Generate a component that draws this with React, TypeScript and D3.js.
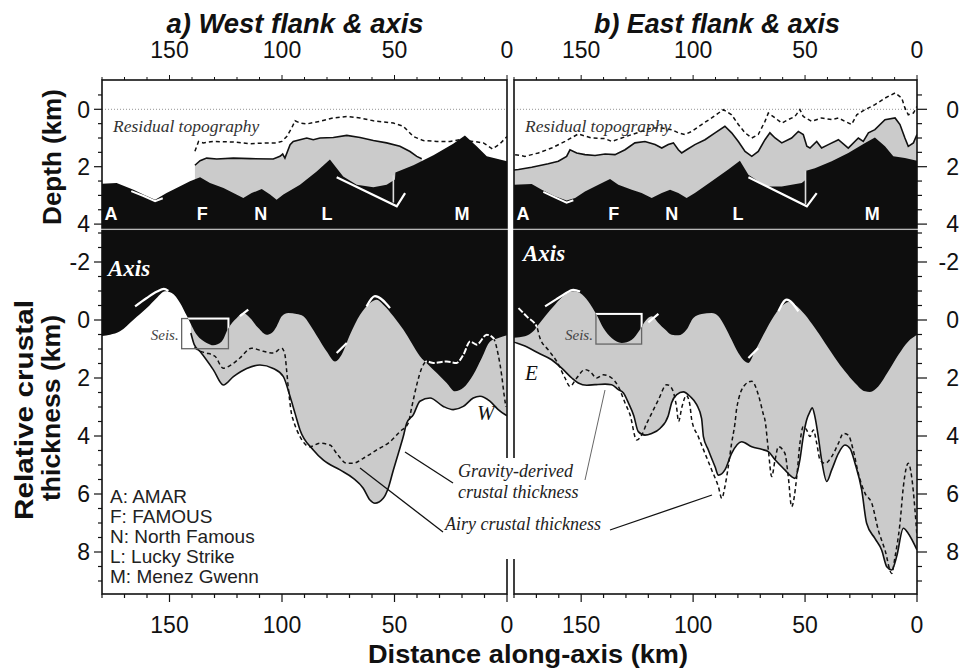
import React from 'react';
import * as d3 from 'd3';

type P = [number, number];

// ---------- tick labels / categories ----------
const KM_MAJOR = [150, 100, 50, 0];
const DEPTH_LABELS = [0, 2, 4];
const THICK_LABELS = [-2, 0, 2, 4, 6, 8];
const SITE_KM = [176, 135.5, 109.5, 80, 20];
const SITE_CODES = ['A', 'F', 'N', 'L', 'M'];
const LEGEND = ['A: AMAR', 'F: FAMOUS', 'N: North Famous', 'L: Lucky Strike', 'M: Menez Gwenn'];

// ---------- West flank: depth (km) vs distance (km) ----------
const bathyW: P[] = [[181,2.60],[173.5,2.57],[166,2.80],[161.6,2.97],[156.4,3.15],[151.3,2.92],[145.3,2.68],[140.9,2.51],[136.4,2.37],[132,2.57],[126,2.74],[121.6,2.92],[117.2,3.09],[113.5,2.92],[109,2.78],[105.3,2.97],[102.4,3.15],[99.4,2.97],[92,2.63],[84.6,2.17],[78.7,1.75],[72.8,2.34],[66.8,2.63],[59.4,2.72],[53.5,2.63],[49.8,2.45],[49.6,2.20],[41.6,1.95],[32.7,1.60],[23.9,1.20],[18.7,0.91],[13.5,1.29],[9,1.64],[0,1.81]];
const resW: P[] = [[138.7,1.95],[136.4,1.79],[133.5,1.70],[129,1.73],[121.6,1.70],[114.2,1.72],[103.9,1.73],[100.9,1.64],[99.7,1.56],[98.7,1.70],[96.4,1.23],[95,1.12],[92,1.06],[89,1.00],[86.1,1.06],[83.1,1.00],[77.2,0.98],[71.2,0.91],[65.3,0.98],[59.4,1.09],[53.5,1.17],[47.6,1.29],[43.1,1.47],[40.1,1.64],[37.9,1.72]];
const resDashW: P[] = [[138.7,1.46],[137.1,1.12],[135,1.17],[130.5,1.12],[121.6,1.14],[114.2,1.20],[106.8,1.17],[102.4,1.17],[100.1,1.12],[97.9,0.95],[95.7,0.65],[94.2,0.40],[92,0.48],[89,0.51],[83.1,0.42],[77.2,0.30],[71.2,0.25],[65.3,0.30],[59.4,0.40],[50.5,0.48],[46.1,0.59],[41.6,0.95],[37.2,1.09],[31.2,1.12],[25.3,1.12],[20.9,1.06],[15,1.12],[10.5,1.17],[6.5,1.38],[3.1,1.2],[0,0.95]];
const whiteAW: P[] = [[167,2.85],[161.5,3.02],[156.4,3.2],[153,3.1]];
const whiteLW: P[] = [[75.7,2.37],[49,3.38],[45.3,2.92]];
const whiteVW: P[] = [[50.5,2.3],[50.5,3.25]];

// ---------- East flank: depth ----------
const bathyE: P[] = [[181,2.63],[172.1,2.60],[167.6,2.80],[161.7,3.03],[156.5,3.18],[152.7,3.09],[148.3,2.86],[142.3,2.63],[137.1,2.43],[133.4,2.63],[127.4,2.80],[123,2.92],[118.5,3.09],[114,2.92],[110.3,2.80],[106.6,2.92],[102.9,3.09],[99.2,2.92],[91.7,2.51],[84.3,2.10],[79.1,1.79],[75.3,2.28],[70.9,2.51],[66.4,2.69],[60.4,2.69],[56,2.63],[51.5,2.57],[50,2.47],[49.5,2.14],[45.6,2.05],[38.1,1.81],[30.7,1.52],[23.2,1.17],[18.8,0.98],[14.3,1.29],[10.6,1.64],[5.4,1.70],[0,1.79]];
const resE: P[] = [[181,2.12],[178,2.10],[172.1,2.02],[164.7,1.90],[160.2,1.81],[156.5,1.64],[155,1.41],[152,1.52],[148.3,1.58],[143.8,1.61],[139.3,1.56],[134.9,1.58],[130.4,1.41],[126,1.17],[121.5,1.12],[117,1.23],[114,1.35],[111.1,1.23],[108.8,1.17],[106.6,1.41],[105.1,1.52],[102.9,1.41],[99.2,1.23],[94.7,1.06],[90.2,0.82],[85.8,0.59],[82.8,0.82],[79.8,1.12],[76.8,1.47],[73.8,1.64],[70.9,1.47],[67.9,1.06],[65.7,0.82],[63.4,1.00],[60.4,1.17],[56,1.00],[53,0.77],[50.8,0.88],[49.2,1.29],[47.8,1.35],[44.8,1.12],[42.6,1.35],[39.6,1.23],[35.1,1.06],[30.7,1.35],[26.2,1.00],[24,1.12],[21.7,0.82],[18.8,0.71],[14.3,0.36],[9.8,0.30],[7.6,0.53],[5.4,1.00],[3.9,1.29],[1.6,1.17],[0,0.88]];
const resDashE: P[] = [[179.5,1.58],[175.1,1.64],[169.1,1.52],[163.2,1.35],[157.2,1.12],[151.3,0.86],[145.3,1.00],[139.3,1.02],[136.4,1.12],[131.9,1.00],[127.4,0.88],[123,0.77],[118.5,0.65],[114,0.65],[109.6,0.71],[106.6,0.82],[103.6,0.88],[100.6,0.77],[96.2,0.53],[91.7,0.30],[86.5,0.01],[82.8,0.19],[79.8,0.53],[76.8,0.82],[73.8,1.00],[70.9,0.88],[67.9,0.42],[66.4,0.13],[63.4,0.30],[60.4,0.48],[57.5,0.36],[54.5,0.25],[52.3,0.01],[50.8,0.25],[47,0.42],[42.6,0.30],[38.1,0.36],[35.1,0.30],[32.2,0.42],[29.2,0.53],[26.9,0.19],[23.2,0.01],[18.8,-0.16],[14.3,-0.39],[9.8,-0.57],[6.8,-0.39],[5.4,-0.05],[3.9,0.19],[1.6,0.13],[0,-0.10]];
const whiteAE: P[] = [[166.9,2.88],[161.7,3.07],[156.5,3.25],[153.5,3.17]];
const whiteLE: P[] = [[75.3,2.37],[49.2,3.38],[44.8,2.92]];
const whiteVE: P[] = [[49.8,2.15],[49.8,3.3]];

// ---------- West flank: relative crustal thickness (km) ----------
const axisW: P[] = [[181,0.56],[176.4,0.51],[172,0.39],[166,-0.01],[160.1,-0.41],[155.7,-0.76],[152,-0.99],[149,-0.93],[145.3,-0.59],[142.2,-0.13],[137.9,0.51],[133.5,0.79],[130.5,0.87],[126.8,0.74],[123.8,0.28],[120.1,-0.07],[117.2,-0.24],[114.2,-0.07],[110.5,0.28],[106.8,0.51],[104.6,0.45],[102.4,0.22],[100.1,-0.13],[97.2,-0.24],[93.5,-0.21],[90.5,-0.13],[87.6,0.16],[83.9,0.62],[80.2,1.08],[76.4,1.43],[73.5,1.20],[69.8,0.51],[65.3,-0.18],[60.9,-0.59],[57.9,-0.70],[55,-0.53],[50.5,-0.13],[46.1,0.33],[42.4,0.79],[38.7,1.25],[35,1.54],[31.2,1.83],[26.8,2.17],[23.1,2.46],[19.4,2.34],[15,1.89],[11.2,1.31],[7.5,0.74],[3.8,0.62],[0,0.53]];
const gravW: P[] = [[140.5,0.45],[139,0.85],[136.4,1.09],[130.5,1.72],[126.1,2.24],[121.6,1.95],[115.7,1.67],[109.8,1.55],[103.9,1.67],[99.4,1.95],[96.4,2.64],[94.2,3.22],[92,3.79],[86.1,4.48],[81.6,4.83],[74.2,5.17],[68.3,5.46],[63.9,5.80],[60.9,6.21],[58.7,6.32],[55,6.15],[52.8,5.8],[50.5,5.17],[48.3,4.6],[46.1,4.02],[44.6,3.56],[41.6,3.26],[38.7,2.80],[34.2,2.69],[28.3,2.98],[23.9,3.09],[19.4,2.98],[15,2.69],[12,2.63],[7.6,2.80],[3.9,3.09],[0.9,3.26],[0,3.3]];
const airyW: P[] = [[139,0.95],[135.5,1.1],[133.5,1.14],[129.8,1.25],[126.1,1.66],[122.4,1.54],[118.7,1.31],[113.5,0.97],[108.3,1.08],[103.9,1.14],[100.1,0.97],[98.7,1.20],[97.9,1.77],[97.2,2.34],[95.7,3.26],[95,3.45],[92,4.02],[87.6,4.37],[83.1,4.25],[78.7,4.31],[75.7,4.6],[71.2,4.94],[68.3,4.94],[63.9,4.77],[57.9,4.48],[52,4.2],[47.6,3.85],[43.9,3.56],[42.4,3.03],[40.1,2.23],[37.9,1.66],[35.7,1.43],[32.7,1.48],[26.8,1.43],[22.4,1.48],[19.4,1.2],[16.4,0.74],[13.5,0.85],[9,0.51],[6.1,0.62],[3.9,1.2],[2.4,1.89],[1.3,2.57],[0.5,3.0]];
const marksW: P[][] = [
  [[165.3,-0.47],[160.1,-0.76],[155.5,-0.98],[152.5,-1.07],[150.5,-1.0]],
  [[118.7,-0.13],[115,-0.36]],
  [[75.7,1.14],[71.2,0.79]],
  [[62.4,-0.47],[58.7,-0.82],[52,-0.41]],
];
const seisW = { km: [144.6, 123.8], t: [-0.05, 0.99] };

// ---------- East flank: relative crustal thickness ----------
const axisE: P[] = [[181,0.62],[175.1,0.56],[171.4,0.39],[169.1,0.16],[166.1,-0.13],[161.7,-0.53],[157.2,-0.87],[153.5,-0.99],[150.5,-0.93],[146.8,-0.64],[143.1,-0.18],[140.1,0.28],[136.4,0.62],[131.9,0.79],[127.4,0.68],[123.7,0.33],[121.5,0.05],[118.5,-0.13],[115.5,0.10],[112.5,0.33],[109.6,0.51],[106.6,0.53],[102.9,0.33],[99.9,-0.07],[96.2,-0.21],[91.7,-0.24],[88.7,-0.13],[85.8,0.22],[82.8,0.68],[79.8,1.14],[76.8,1.43],[75.3,1.48],[72.4,1.08],[68.6,0.51],[64.9,-0.01],[60.4,-0.47],[57.5,-0.62],[54.5,-0.53],[50,-0.18],[45.6,0.28],[41.1,0.79],[36.6,1.31],[32.2,1.77],[27.7,2.17],[23.2,2.46],[21,2.48],[17.3,2.29],[12.8,1.77],[8.3,1.2],[3.9,0.74],[0,0.51]];
const gravE: P[] = [[181,0.75],[178.8,0.79],[175.1,0.90],[169.1,1.14],[163.2,1.37],[158.7,1.66],[154.2,2.0],[151.3,2.17],[147.5,2.25],[143.8,2.23],[139.3,2.21],[136.4,2.23],[133.4,2.40],[131.1,2.52],[128.9,2.86],[126.5,3.3],[124.5,3.85],[121.5,3.97],[118.5,3.91],[114.8,3.74],[111.1,3.3],[109.6,2.85],[107.3,2.57],[104.4,2.48],[101.4,2.63],[98.4,2.92],[96.2,3.4],[95.4,4.02],[93.2,4.48],[90.2,5.06],[88.7,5.35],[85.8,5.17],[82.8,4.6],[78.3,4.2],[73.8,4.37],[69.4,4.46],[66.4,4.54],[63.4,4.82],[59,5.17],[56,5.40],[54.5,5.46],[52.3,4.82],[50.8,4.02],[49.3,3.45],[47.8,3.16],[46.8,3.03],[45.6,3.33],[44.1,4.02],[42.6,4.83],[40.3,5.57],[38.1,5.17],[35.1,4.6],[32.2,4.31],[29.9,4.43],[27.7,4.94],[24.7,5.86],[22.5,7.01],[18.8,7.53],[15.8,7.93],[13.5,8.51],[11.3,8.62],[9.1,8.16],[6.1,7.18],[3.9,7.36],[0,7.93]];
const airyE: P[] = [[178,-0.41],[174,-0.1],[169.9,0.22],[168.4,0.62],[164.7,1.03],[160.9,1.43],[157.2,2.0],[155,2.29],[152,2.0],[148.3,1.71],[146.1,1.77],[143.1,2.0],[140.1,1.89],[136.4,2.0],[133.4,2.29],[130.4,2.86],[128.2,3.26],[125.2,4.14],[123,3.97],[120.7,3.56],[118.5,3.22],[115.5,2.75],[111.8,2.23],[109.6,2.35],[107.4,3.0],[106.5,3.5],[105,3.0],[103,2.6],[101.5,2.9],[100.6,3.45],[97.7,4.02],[94.7,4.6],[91.7,5.17],[88.7,5.75],[87.2,6.15],[85.8,5.75],[84.3,5.06],[82.8,4.25],[81.3,3.56],[80.5,3.03],[76.8,2.23],[73.8,2.11],[70.9,2.57],[68.6,3.26],[67.9,3.45],[66.4,4.48],[64.9,5.4],[63.4,4.83],[61.9,4.37],[59,4.6],[57.5,5.4],[56,6.44],[53.7,5.4],[52.3,4.25],[50.8,3.68],[49.3,3.79],[47.8,4.02],[46.3,3.79],[44.8,4.25],[43.3,4.83],[41.1,4.94],[38.1,4.71],[35.1,4.25],[32.9,3.91],[30.7,3.97],[28.5,4.48],[26.2,5.29],[23.2,5.98],[20.2,6.32],[17.3,7.24],[14.3,7.93],[11.3,8.74],[9.8,8.16],[7.6,7.01],[6.1,5.75],[3.9,4.94],[2.4,5.4],[0.9,6.55],[0,7.47]];
const marksE: P[][] = [
  [[166.1,-0.47],[161,-0.72],[157.9,-0.87],[153.5,-1.04],[150.5,-0.98]],
  [[120,0.08],[115.5,-0.21]],
  [[75.3,1.31],[70.9,0.97]],
  [[61.9,-0.30],[58.2,-0.70],[53,-0.30]],
];
const seisE = { km: [143.4, 123], t: [-0.21, 0.83] };

const SANS = '"Liberation Sans", Arial, Helvetica, sans-serif';
const SERIF = '"Liberation Serif", "Times New Roman", serif';
const GRAY = '#cbcbcb';
const BLACK = '#0e0e0e';

export default function App() {
  const T0 = 80, T1 = 228, B0 = 230.5, B1 = 594;
  const xW = d3.scaleLinear().domain([180, 0]).range([102, 507]);
  const xE = d3.scaleLinear().domain([180, 0]).range([514, 917]);
  const yT = d3.scaleLinear().domain([0, 4]).range([109.3, 224.1]);
  const yB = d3.scaleLinear().domain([0, 8]).range([320, 552]);

  const panels = [
    { key: 'W', x: xW, bathy: bathyW, res: resW, resD: resDashW, wA: whiteAW, wL: whiteLW, wV: whiteVW,
      axis: axisW, grav: gravW, airy: airyW, marks: marksW, seis: seisW, axisY: 276, axisX: 108 },
    { key: 'E', x: xE, bathy: bathyE, res: resE, resD: resDashE, wA: whiteAE, wL: whiteLE, wV: whiteVE,
      axis: axisE, grav: gravE, airy: airyE, marks: marksE, seis: seisE, axisY: 261, axisX: 523 },
  ];

  const kmTicks = d3.range(0, 181, 10);
  const depthTicks = d3.range(-0.5, 4.01, 0.5);
  const thickTicks = d3.range(-3, 9.01, 0.5);

  return (
    <svg width={961} height={669} style={{ position: 'absolute', left: 0, top: 0, display: 'block', background: '#fff' }}>
      {panels.map((p) => {
        const x = p.x;
        const [xl, xr] = x.range();
        const linT = d3.line<P>().x((d) => x(d[0])).y((d) => yT(d[1]));
        const smB = d3.line<P>().x((d) => x(d[0])).y((d) => yB(d[1])).curve(d3.curveMonotoneX);
        const blackTop = d3.area<P>().x((d) => x(d[0])).y0(T1 + 2).y1((d) => yT(d[1]))(p.bathy) || '';
        const grayTop = d3.area<P>().x((d) => x(d[0])).y0(T1 + 2).y1((d) => yT(d[1]))(p.res) || '';
        const grayBot = d3.area<P>().x((d) => x(d[0])).y0(B0 - 2).y1((d) => yB(d[1])).curve(d3.curveMonotoneX)(p.grav) || '';
        const blackBot = d3.area<P>().x((d) => x(d[0])).y0(B0 - 2).y1((d) => yB(d[1])).curve(d3.curveMonotoneX)(p.axis) || '';
        const sx0 = x(p.seis.km[0]), sx1 = x(p.seis.km[1]);
        const sy0 = yB(p.seis.t[0]), sy1 = yB(p.seis.t[1]);
        return (
          <g key={p.key}>
            <defs>
              <clipPath id={`ct${p.key}`}><rect x={xl} y={T0} width={xr - xl} height={T1 - T0} /></clipPath>
              <clipPath id={`cb${p.key}`}><rect x={xl} y={B0} width={xr - xl} height={B1 - B0} /></clipPath>
              <clipPath id={`blk${p.key}`}><path d={blackBot} /></clipPath>
            </defs>
            {/* top panel */}
            <g clipPath={`url(#ct${p.key})`}>
              <line x1={xl} x2={xr} y1={yT(0)} y2={yT(0)} stroke="#777" strokeWidth={0.8} strokeDasharray="1,2" />
              <path d={grayTop} fill={GRAY} />
              <path d={linT(p.res) || ''} fill="none" stroke="#111" strokeWidth={1.6} />
              <path d={linT(p.resD) || ''} fill="none" stroke="#111" strokeWidth={1.5} strokeDasharray="4,3" />
              <path d={blackTop} fill={BLACK} />
              <path d={linT(p.wA) || ''} fill="none" stroke="#fff" strokeWidth={2} />
              <path d={linT(p.wL) || ''} fill="none" stroke="#fff" strokeWidth={2.2} />
              <path d={linT(p.wV) || ''} fill="none" stroke="#ddd" strokeWidth={1.6} />
              {SITE_CODES.map((c, i) => (
                <text key={c} x={x(SITE_KM[i])} y={220} fill="#fff" fontFamily={SANS} fontWeight="bold" fontSize={18} textAnchor="middle">{c}</text>
              ))}
            </g>
            <text x={xl + 11} y={131.5} fontFamily={SERIF} fontStyle="italic" fontSize={17.5} fill="#333">Residual topography</text>
            {/* bottom panel */}
            <g clipPath={`url(#cb${p.key})`}>
              <path d={grayBot} fill={GRAY} />
              <path d={smB(p.grav) || ''} fill="none" stroke="#111" strokeWidth={1.6} />
              <path d={blackBot} fill={BLACK} />
              <path d={smB(p.airy) || ''} fill="none" stroke="#111" strokeWidth={1.5} strokeDasharray="4,3" />
              <rect x={sx0} y={sy0} width={sx1 - sx0} height={sy1 - sy0} fill="none" stroke="#666" strokeWidth={1.3} />
              <g clipPath={`url(#blk${p.key})`}>
                <path d={smB(p.airy) || ''} fill="none" stroke="#fff" strokeWidth={2} strokeDasharray="6,2" />
                <rect x={sx0} y={sy0} width={sx1 - sx0} height={sy1 - sy0} fill="none" stroke="#fff" strokeWidth={2} />
              </g>
              {p.marks.map((m, i) => (
                <path key={i} d={smB(m) || ''} fill="none" stroke="#fff" strokeWidth={2.2} />
              ))}
              <text x={p.axisX} y={p.axisY} fill="#fff" fontFamily={SERIF} fontStyle="italic" fontWeight="bold" fontSize={23}>Axis</text>
            </g>
            <text x={sx0 - 3} y={340} textAnchor="end" fontFamily={SERIF} fontStyle="italic" fontSize={15} fill="#444">Seis.</text>
            {/* frames */}
            <rect x={xl} y={T0} width={xr - xl} height={T1 - T0} fill="none" stroke="#111" strokeWidth={1.6} />
            <rect x={xl} y={B0} width={xr - xl} height={B1 - B0} fill="none" stroke="#111" strokeWidth={1.6} />
            {/* x ticks */}
            {kmTicks.map((k) => {
              const major = k % 50 === 0;
              return (
                <g key={k}>
                  <line x1={x(k)} x2={x(k)} y1={T0} y2={T0 - (major ? 5 : 3)} stroke="#111" strokeWidth={1} />
                  <line x1={x(k)} x2={x(k)} y1={B1} y2={B1 + (major ? 8 : 4)} stroke="#111" strokeWidth={1.2} />
                </g>
              );
            })}
            {KM_MAJOR.map((k) => (
              <g key={k}>
                <text x={x(k)} y={58} textAnchor="middle" fontFamily={SANS} fontSize={23} fill="#111">{k}</text>
                <text x={x(k)} y={633} textAnchor="middle" fontFamily={SANS} fontSize={23} fill="#111">{k}</text>
              </g>
            ))}
          </g>
        );
      })}

      {/* y ticks left/right */}
      {depthTicks.map((d) => {
        const major = Math.abs(d % 2) < 1e-6;
        return (
          <g key={`d${d}`}>
            <line x1={102} x2={102 - (major ? 8 : 4)} y1={yT(d)} y2={yT(d)} stroke="#111" strokeWidth={1.2} />
            <line x1={917} x2={917 + (major ? 10 : 5)} y1={yT(d)} y2={yT(d)} stroke="#111" strokeWidth={1.2} />
          </g>
        );
      })}
      {thickTicks.map((d) => {
        const major = Math.abs(d % 2) < 1e-6;
        return (
          <g key={`t${d}`}>
            <line x1={102} x2={102 - (major ? 8 : 4)} y1={yB(d)} y2={yB(d)} stroke="#111" strokeWidth={1.2} />
            <line x1={917} x2={917 + (major ? 10 : 5)} y1={yB(d)} y2={yB(d)} stroke="#111" strokeWidth={1.2} />
          </g>
        );
      })}
      {DEPTH_LABELS.map((d) => (
        <g key={`dl${d}`}>
          <text x={90} y={yT(d)} dy="0.36em" textAnchor="end" fontFamily={SANS} fontSize={23} fill="#111">{d}</text>
          <text x={959} y={yT(d)} dy="0.36em" textAnchor="end" fontFamily={SANS} fontSize={23} fill="#111">{d}</text>
        </g>
      ))}
      {THICK_LABELS.map((d) => (
        <g key={`tl${d}`}>
          <text x={90} y={yB(d)} dy="0.36em" textAnchor="end" fontFamily={SANS} fontSize={23} fill="#111">{d}</text>
          <text x={959} y={yB(d)} dy="0.36em" textAnchor="end" fontFamily={SANS} fontSize={23} fill="#111">{d}</text>
        </g>
      ))}

      {/* interruption of divider by annotation text */}
      <rect x={503} y={458} width={13} height={101} fill="#fff" />

      {/* labels */}
      <text x={525} y={380} fontFamily={SERIF} fontStyle="italic" fontSize={21} fill="#111">E</text>
      <text x={477} y={420} fontFamily={SERIF} fontStyle="italic" fontSize={21} fill="#111">W</text>
      <text x={458} y={477} fontFamily={SERIF} fontStyle="italic" fontSize={18} fill="#222">Gravity-derived</text>
      <text x={458} y={498} fontFamily={SERIF} fontStyle="italic" fontSize={18} fill="#222">crustal thickness</text>
      <text x={445} y={530} fontFamily={SERIF} fontStyle="italic" fontSize={18} fill="#222">Airy crustal thickness</text>
      <line x1={405} y1={452} x2={453} y2={483} stroke="#111" strokeWidth={1.3} />
      <line x1={585} y1={480} x2={605} y2={390} stroke="#555" strokeWidth={0.9} />
      <line x1={360} y1={468} x2={443} y2={532} stroke="#111" strokeWidth={1.3} />
      <line x1={610} y1={530} x2={712} y2={495} stroke="#111" strokeWidth={1.3} />

      {LEGEND.map((s, i) => (
        <text key={s} x={110} y={503.3 + i * 20} fontFamily={SANS} fontSize={19} fill="#222">{s}</text>
      ))}

      <text x={295} y={33} textAnchor="middle" fontFamily={SANS} fontWeight="bold" fontStyle="italic" fontSize={27} textLength={257} lengthAdjust="spacingAndGlyphs" fill="#111">a) West flank &amp; axis</text>
      <text x={717} y={33} textAnchor="middle" fontFamily={SANS} fontWeight="bold" fontStyle="italic" fontSize={27} textLength={246} lengthAdjust="spacingAndGlyphs" fill="#111">b) East flank &amp; axis</text>
      <text x={528} y={663} textAnchor="middle" fontFamily={SANS} fontWeight="bold" fontSize={26} textLength={320} lengthAdjust="spacingAndGlyphs" fill="#111">Distance along-axis (km)</text>
      <text transform="translate(61,157) rotate(-90)" textAnchor="middle" fontFamily={SANS} fontWeight="bold" fontSize={26} fill="#111">Depth (km)</text>
      <text transform="translate(33,410) rotate(-90)" textAnchor="middle" fontFamily={SANS} fontWeight="bold" fontSize={26} textLength={220} lengthAdjust="spacingAndGlyphs" fill="#111">Relative crustal</text>
      <text transform="translate(60,408) rotate(-90)" textAnchor="middle" fontFamily={SANS} fontWeight="bold" fontSize={26} textLength={186} lengthAdjust="spacingAndGlyphs" fill="#111">thickness (km)</text>
    </svg>
  );
}
